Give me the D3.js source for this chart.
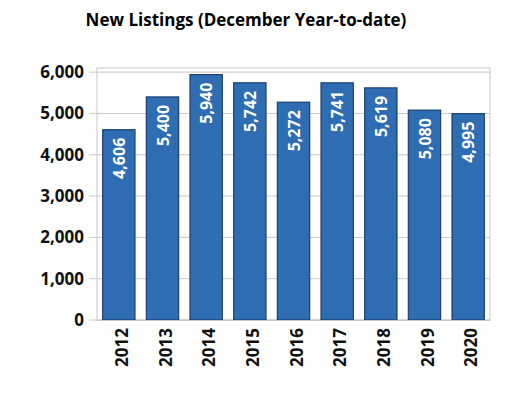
<!DOCTYPE html>
<html><head><meta charset="utf-8">
<script src="https://cdn.jsdelivr.net/npm/d3@7"></script>
<style>body{margin:0;background:#fff}</style>
</head><body>
<svg id="chart" width="512" height="414"></svg>
<script>
const years = ["2012","2013","2014","2015","2016","2017","2018","2019","2020"];
const listings = [4606,5400,5940,5742,5272,5741,5619,5080,4995];
const yTicks = [0,1000,2000,3000,4000,5000,6000];

const svg = d3.select("#chart");
const font = "'Open Sans', 'DejaVu Sans', sans-serif";
const plotL = 97, plotR = 490, plotT = 68, plotB = 320;

svg.append("text").attr("x", 246).attr("y", 26).attr("text-anchor", "middle")
  .attr("font-family", font).attr("font-weight", 700).attr("font-size", 17)
  .text("New Listings (December Year-to-date)");

const x = d3.scaleBand().domain(years).range([plotL, plotR]).paddingInner(0.26).paddingOuter(0.13);
const y = d3.scaleLinear().domain([0, 6100]).range([plotB, plotT]);

// grid
svg.append("g").selectAll("line").data(yTicks).join("line")
  .attr("x1", plotL - 8).attr("x2", plotR).attr("y1", d => y(d)).attr("y2", d => y(d))
  .attr("stroke", "#c8c8c8").attr("stroke-width", 1);
svg.append("rect").attr("x", plotL).attr("y", plotT).attr("width", plotR - plotL).attr("height", plotB - plotT)
  .attr("fill", "none").attr("stroke", "#c8c8c8");

const yAxis = svg.append("g").attr("transform", `translate(${plotL - 10},0)`)
  .call(d3.axisLeft(y).tickValues(yTicks).tickSize(0).tickFormat(d3.format(",")));
yAxis.select(".domain").remove();
yAxis.selectAll("text").attr("font-family", font).attr("font-weight", 700).attr("font-size", 17).attr("fill", "#111");

svg.append("g").selectAll("rect").data(years).join("rect")
  .attr("x", d => x(d)).attr("width", x.bandwidth())
  .attr("y", (d, i) => y(listings[i])).attr("height", (d, i) => plotB - y(listings[i]))
  .attr("fill", "#2f6db3").attr("stroke", "#1d3f6e").attr("stroke-width", 1.2);

svg.append("g").selectAll("text").data(years).join("text")
  .attr("transform", (d, i) => `translate(${x(d) + x.bandwidth() / 2 + 6},${y(listings[i]) + 8}) rotate(-90)`)
  .attr("text-anchor", "end").attr("fill", "#fff")
  .attr("font-family", font).attr("font-weight", 700).attr("font-size", 16)
  .text((d, i) => d3.format(",")(listings[i]));

const xAxis = svg.append("g").attr("transform", `translate(0,${plotB})`)
  .call(d3.axisBottom(x).tickSize(0));
xAxis.select(".domain").attr("stroke", "#c8c8c8");
xAxis.selectAll("text").attr("transform", "translate(6,8) rotate(-90)").attr("text-anchor", "end")
  .attr("dy", 0).attr("font-family", font).attr("font-weight", 700).attr("font-size", 17).attr("fill", "#111");
</script>
</body></html>
